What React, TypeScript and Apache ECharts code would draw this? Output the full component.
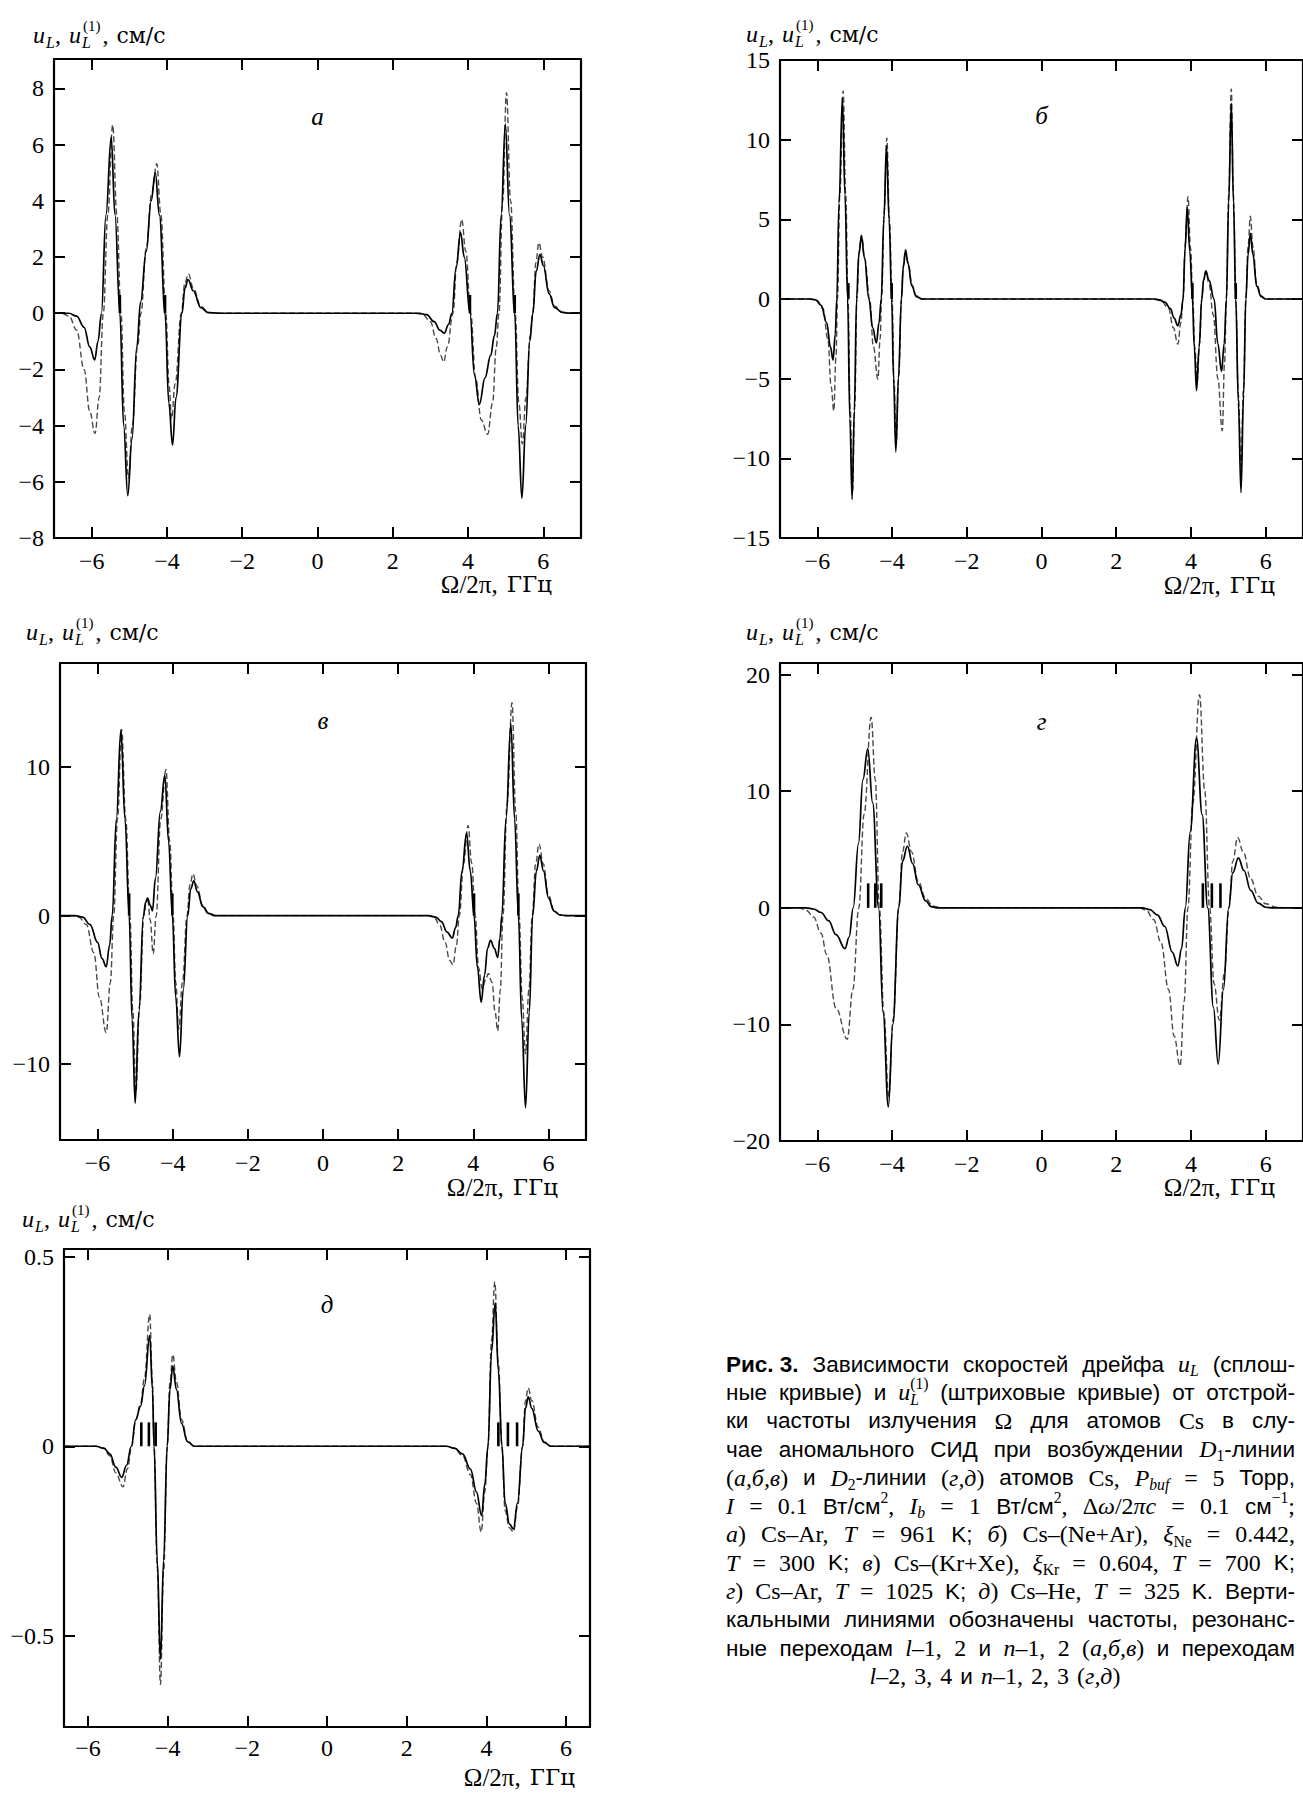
import React, { useEffect, useRef } from "react";
import * as echarts from "echarts";

// ---------------- data ----------------
const xTicks = [-6, -4, -2, 0, 2, 4, 6];
const aYTicks = [-8, -6, -4, -2, 0, 2, 4, 6, 8];
const bYTicks = [-15, -10, -5, 0, 5, 10, 15];
const vYTicks = [-10, 0, 10];
const gYTicks = [-20, -10, 0, 10, 20];
const dYTicks = [-0.5, 0, 0.5];

// panel а (Cs–Ar, D1)
const aSolid = [
  [-7, 0], [-6.6, 0], [-6.4, -0.1], [-6.2, -0.5], [-6.05, -1.2], [-5.92, -1.66], [-5.83, -1.0], [-5.74, 0],
  [-5.62, 3.5], [-5.48, 6.27], [-5.38, 3.5], [-5.25, 0], [-5.15, -4.0], [-5.04, -6.49], [-4.93, -4.5],
  [-4.8, -1.2], [-4.7, 0.4], [-4.55, 2.2], [-4.42, 4.0], [-4.31, 5.0], [-4.2, 3.5], [-4.05, 0], [-3.95, -3.2],
  [-3.85, -4.69], [-3.76, -3.0], [-3.6, 0], [-3.52, 0.9], [-3.44, 1.2], [-3.3, 0.8], [-3.1, 0.2], [-2.9, 0.02],
  [-2.6, 0], [2.7, 0], [2.9, -0.05], [3.1, -0.3], [3.25, -0.6], [3.37, -0.71], [3.48, -0.4], [3.57, 0],
  [3.68, 1.6], [3.8, 2.87], [3.9, 2.0], [4.05, 0], [4.17, -2.2], [4.3, -3.25], [4.45, -2.3], [4.6, -1.5],
  [4.7, -0.8], [4.78, 0], [4.88, 3.5], [4.99, 6.74], [5.1, 3.5], [5.24, 0], [5.33, -4.0], [5.43, -6.58],
  [5.53, -4.0], [5.64, -1.0], [5.72, 0], [5.81, 1.5], [5.91, 2.09], [6.0, 1.7], [6.15, 0.7], [6.3, 0.2],
  [6.5, 0.03], [6.7, 0], [7, 0],
];
const aDashed = [
  [-7, 0], [-6.8, 0], [-6.6, -0.1], [-6.4, -0.6], [-6.2, -2.0], [-6.05, -3.5], [-5.91, -4.28], [-5.8, -3.0],
  [-5.69, 0], [-5.57, 3.5], [-5.44, 6.7], [-5.33, 3.5], [-5.22, 0], [-5.13, -3.5], [-5.02, -5.87], [-4.92, -4.0],
  [-4.78, -1.2], [-4.69, 0], [-4.55, 2.3], [-4.4, 4.3], [-4.27, 5.32], [-4.16, 3.5], [-4.03, 0], [-3.94, -2.6],
  [-3.88, -3.76], [-3.78, -2.5], [-3.62, 0], [-3.52, 1.1], [-3.43, 1.4], [-3.3, 0.9], [-3.1, 0.25], [-2.9, 0.03],
  [-2.6, 0], [2.6, 0], [2.8, -0.05], [3.0, -0.3], [3.15, -0.9], [3.27, -1.5], [3.35, -1.73], [3.45, -1.2],
  [3.6, 0], [3.7, 1.8], [3.83, 3.34], [3.94, 2.2], [4.07, 0], [4.2, -2.3], [4.35, -3.8], [4.52, -4.31],
  [4.65, -3.2], [4.75, -1.2], [4.82, 0], [4.92, 4.0], [5.02, 7.85], [5.13, 4.0], [5.25, 0], [5.35, -3.2],
  [5.44, -4.65], [5.54, -3.0], [5.65, -0.8], [5.72, 0], [5.8, 1.8], [5.88, 2.51], [5.98, 2.0], [6.15, 0.8],
  [6.3, 0.25], [6.5, 0.04], [6.7, 0], [7, 0],
];
const aMarks = [-5.25, -4.05, 4.05, 5.24];
const aMarkH = 0.65;

// panel б (Cs–(Ne+Ar), D1)
const bSolid = [
  [-7, 0], [-6.2, 0], [-6.05, -0.05], [-5.9, -0.4], [-5.75, -1.5], [-5.65, -3.0], [-5.58, -3.83], [-5.52, -2.2],
  [-5.48, 0], [-5.42, 6.0], [-5.33, 12.63], [-5.26, 6.5], [-5.19, 0], [-5.13, -7.5], [-5.07, -12.58],
  [-5.01, -7.0], [-4.95, 0], [-4.89, 2.8], [-4.82, 3.95], [-4.74, 2.6], [-4.62, 0], [-4.52, -1.8],
  [-4.42, -2.76], [-4.35, -1.5], [-4.29, 0], [-4.22, 5.0], [-4.15, 9.63], [-4.08, 5.0], [-4.01, 0],
  [-3.96, -5.0], [-3.9, -9.59], [-3.83, -5.0], [-3.75, 0], [-3.7, 2.0], [-3.64, 3.04], [-3.57, 2.2],
  [-3.47, 0.8], [-3.35, 0.15], [-3.2, 0], [3.0, 0], [3.15, -0.05], [3.3, -0.2], [3.45, -0.6], [3.55, -1.2],
  [3.65, -1.68], [3.73, -1.0], [3.79, 0], [3.84, 3.0], [3.9, 5.75], [3.97, 3.0], [4.04, 0], [4.09, -3.0],
  [4.15, -5.75], [4.22, -3.0], [4.29, 0], [4.34, 1.2], [4.4, 1.75], [4.48, 1.2], [4.62, 0], [4.72, -2.8],
  [4.82, -4.55], [4.89, -2.8], [4.95, 0], [5.01, 6.0], [5.08, 12.29], [5.14, 6.0], [5.2, 0], [5.27, -6.5],
  [5.34, -12.15], [5.41, -6.0], [5.47, 0], [5.53, 2.8], [5.59, 4.12], [5.66, 2.8], [5.76, 0.8], [5.88, 0.15],
  [6.0, 0], [7, 0],
];
const bDashed = [
  [-7, 0], [-6.2, 0], [-6.0, -0.1], [-5.85, -0.6], [-5.72, -2.5], [-5.63, -5.5], [-5.56, -7.02], [-5.5, -3.5],
  [-5.46, 0], [-5.4, 6.5], [-5.31, 13.06], [-5.24, 6.5], [-5.18, 0], [-5.12, -7.0], [-5.06, -12.1],
  [-5.0, -6.8], [-4.94, 0], [-4.88, 3.0], [-4.82, 4.0], [-4.73, 2.5], [-4.6, 0], [-4.5, -3.0], [-4.38, -5.03],
  [-4.32, -2.5], [-4.28, 0], [-4.21, 5.5], [-4.14, 10.1], [-4.07, 5.0], [-4.0, 0], [-3.95, -5.0],
  [-3.89, -9.1], [-3.82, -4.8], [-3.75, 0], [-3.7, 2.1], [-3.64, 3.1], [-3.57, 2.3], [-3.47, 0.9],
  [-3.35, 0.2], [-3.2, 0], [3.0, 0], [3.2, -0.1], [3.4, -0.6], [3.53, -1.8], [3.65, -2.83], [3.73, -1.5],
  [3.79, 0], [3.85, 3.5], [3.92, 6.42], [3.99, 3.2], [4.05, 0], [4.1, -3.0], [4.17, -5.15], [4.23, -2.8],
  [4.29, 0], [4.34, 1.2], [4.4, 1.75], [4.48, 1.0], [4.6, -1.0], [4.72, -5.0], [4.84, -8.27], [4.9, -4.0],
  [4.95, 0], [5.01, 6.5], [5.08, 13.18], [5.14, 6.5], [5.2, 0], [5.27, -6.0], [5.34, -10.5], [5.41, -5.5],
  [5.47, 0], [5.53, 3.3], [5.59, 5.2], [5.66, 3.3], [5.76, 1.0], [5.88, 0.2], [6.0, 0], [7, 0],
];
const bMarks = [-5.17, -4.01, 4.04, 5.2];
const bMarkH = 1.0;

// panel в (Cs–(Kr+Xe), D1)
const vSolid = [
  [-7, 0], [-6.6, 0], [-6.4, -0.1], [-6.2, -0.6], [-6.0, -1.8], [-5.88, -2.9], [-5.77, -3.44], [-5.68, -2.0],
  [-5.61, 0], [-5.5, 6.5], [-5.38, 12.48], [-5.27, 6.5], [-5.16, 0], [-5.08, -7.0], [-5.0, -12.63],
  [-4.9, -6.5], [-4.78, 0], [-4.72, 0.9], [-4.67, 1.18], [-4.6, 0.7], [-4.54, 0.33], [-4.46, 2.5],
  [-4.33, 7.0], [-4.21, 9.45], [-4.11, 5.0], [-4.01, 0], [-3.92, -5.5], [-3.82, -9.5], [-3.72, -5.0],
  [-3.6, 0], [-3.52, 1.8], [-3.44, 2.34], [-3.34, 1.6], [-3.2, 0.6], [-3.05, 0.15], [-2.89, 0], [2.8, 0],
  [3.0, -0.1], [3.15, -0.4], [3.3, -1.1], [3.44, -1.51], [3.53, -0.8], [3.6, 0], [3.7, 3.0], [3.82, 5.55],
  [3.92, 3.0], [4.02, 0], [4.11, -3.5], [4.21, -5.83], [4.3, -4.0], [4.38, -2.2], [4.46, -1.67], [4.56, -2.2],
  [4.65, -2.82], [4.71, -1.5], [4.76, 0], [4.87, 6.5], [5.0, 12.91], [5.1, 6.5], [5.2, 0], [5.29, -7.0],
  [5.39, -12.94], [5.49, -6.5], [5.58, 0], [5.68, 3.0], [5.77, 4.06], [5.87, 3.0], [6.0, 1.2], [6.15, 0.3],
  [6.3, 0.05], [6.46, 0], [7, 0],
];
const vDashed = [
  [-7, 0], [-6.7, 0], [-6.5, -0.1], [-6.3, -0.6], [-6.1, -2.5], [-5.95, -5.5], [-5.77, -7.88], [-5.66, -4.5],
  [-5.57, 0], [-5.47, 6.5], [-5.36, 12.53], [-5.25, 6.5], [-5.14, 0], [-5.06, -6.5], [-4.98, -11.86],
  [-4.88, -6.0], [-4.77, 0], [-4.71, 0.8], [-4.66, 0.98], [-4.6, -0.3], [-4.52, -2.57], [-4.44, 0],
  [-4.32, 6.5], [-4.18, 9.83], [-4.08, 5.0], [-3.99, 0], [-3.92, -4.5], [-3.84, -7.63], [-3.74, -4.5],
  [-3.62, 0], [-3.54, 2.1], [-3.46, 2.82], [-3.36, 2.0], [-3.2, 0.7], [-3.05, 0.2], [-2.85, 0], [2.8, 0],
  [2.95, -0.1], [3.1, -0.6], [3.25, -1.8], [3.37, -3.0], [3.46, -3.31], [3.55, -2.0], [3.63, 0], [3.74, 3.5],
  [3.86, 6.06], [3.96, 3.5], [4.05, 0], [4.14, -3.5], [4.24, -4.93], [4.33, -4.3], [4.4, -3.9], [4.5, -4.5],
  [4.58, -6.5], [4.65, -7.75], [4.72, -5.0], [4.79, 0], [4.9, 7.5], [5.03, 14.33], [5.13, 7.0], [5.22, 0],
  [5.3, -5.5], [5.39, -9.3], [5.48, -5.0], [5.57, 0], [5.66, 3.5], [5.75, 4.83], [5.86, 3.5], [6.0, 1.4],
  [6.15, 0.35], [6.3, 0.06], [6.5, 0], [7, 0],
];
const vMarks = [-5.16, -4.01, 4.02, 5.2];
const vMarkH = 1.5;

// panel г (Cs–Ar, D2)
const gSolid = [
  [-7, 0], [-6.3, 0], [-6.1, -0.1], [-5.9, -0.4], [-5.7, -1.1], [-5.5, -2.3], [-5.26, -3.5], [-5.15, -2.5],
  [-5.04, 0], [-4.9, 5.5], [-4.78, 11.0], [-4.65, 13.63], [-4.52, 9.0], [-4.36, 0], [-4.24, -9.0],
  [-4.1, -17.07], [-3.98, -10.0], [-3.82, 0], [-3.72, 4.0], [-3.59, 5.28], [-3.45, 3.8], [-3.3, 2.0],
  [-3.1, 0.6], [-2.95, 0.1], [-2.8, 0], [2.7, 0], [2.9, -0.15], [3.1, -0.6], [3.3, -1.6], [3.5, -3.8],
  [3.65, -4.98], [3.75, -3.5], [3.85, 0], [3.98, 6.5], [4.15, 14.55], [4.3, 8.0], [4.45, 0], [4.6, -8.5],
  [4.73, -13.4], [4.87, -7.0], [5.01, 0], [5.12, 3.0], [5.27, 4.29], [5.42, 3.2], [5.6, 1.5], [5.8, 0.4],
  [6.0, 0.05], [6.2, 0], [7, 0],
];
const gDashed = [
  [-7, 0], [-6.5, 0], [-6.3, -0.2], [-6.1, -0.8], [-5.9, -2.2], [-5.75, -4.0], [-5.5, -8.6], [-5.2, -11.27],
  [-5.05, -7.0], [-4.89, 0], [-4.75, 8.0], [-4.56, 16.35], [-4.45, 11.0], [-4.34, 0], [-4.22, -9.0],
  [-4.09, -16.19], [-3.97, -9.5], [-3.82, 0], [-3.72, 4.8], [-3.62, 6.42], [-3.48, 4.8], [-3.3, 2.3],
  [-3.1, 0.8], [-2.9, 0.15], [-2.7, 0], [2.6, 0], [2.8, -0.2], [3.0, -1.0], [3.2, -3.0], [3.4, -7.0],
  [3.55, -11.0], [3.71, -13.57], [3.82, -8.0], [3.92, 0], [4.05, 9.0], [4.23, 18.28], [4.37, 10.0], [4.5, 0],
  [4.62, -6.5], [4.76, -9.63], [4.9, -5.5], [5.02, 0], [5.12, 4.0], [5.25, 6.03], [5.4, 4.8], [5.6, 2.5],
  [5.8, 1.0], [6.0, 0.35], [6.3, 0.05], [6.5, 0], [7, 0],
];
const gMarks = [-4.64, -4.45, -4.29, 4.32, 4.56, 4.79];
const gMarkH = 2.1;

// panel д (Cs–He, D2)
const dSolid = [
  [-6.6, 0], [-5.8, 0], [-5.6, -0.005], [-5.45, -0.02], [-5.3, -0.055], [-5.15, -0.082], [-5.03, -0.05],
  [-4.91, 0], [-4.8, 0.07], [-4.68, 0.105], [-4.58, 0.16], [-4.45, 0.292], [-4.38, 0.15], [-4.34, 0],
  [-4.26, -0.3], [-4.18, -0.562], [-4.1, -0.3], [-4.01, 0], [-3.94, 0.15], [-3.87, 0.211], [-3.78, 0.15],
  [-3.65, 0.06], [-3.5, 0.012], [-3.33, 0], [3.0, 0], [3.2, -0.005], [3.4, -0.02], [3.6, -0.06],
  [3.75, -0.12], [3.88, -0.183], [3.96, -0.1], [4.04, 0], [4.13, 0.25], [4.22, 0.378], [4.3, 0.2],
  [4.39, 0], [4.47, -0.15], [4.58, -0.205], [4.68, -0.218], [4.78, -0.15], [4.91, 0], [4.98, 0.1],
  [5.05, 0.13], [5.14, 0.1], [5.3, 0.04], [5.45, 0.01], [5.62, 0], [6.6, 0],
];
const dDashed = [
  [-6.6, 0], [-5.8, 0], [-5.6, -0.006], [-5.45, -0.025], [-5.3, -0.07], [-5.12, -0.107], [-5.01, -0.06],
  [-4.9, 0], [-4.8, 0.07], [-4.68, 0.11], [-4.58, 0.18], [-4.45, 0.348], [-4.38, 0.17], [-4.34, 0],
  [-4.26, -0.32], [-4.18, -0.628], [-4.1, -0.33], [-4.01, 0], [-3.94, 0.17], [-3.87, 0.242], [-3.78, 0.17],
  [-3.65, 0.07], [-3.5, 0.014], [-3.33, 0], [3.0, 0], [3.2, -0.006], [3.4, -0.025], [3.6, -0.075],
  [3.75, -0.15], [3.87, -0.226], [3.96, -0.12], [4.04, 0], [4.13, 0.28], [4.21, 0.434], [4.3, 0.22],
  [4.39, 0], [4.47, -0.17], [4.58, -0.215], [4.68, -0.226], [4.78, -0.16], [4.91, 0], [4.98, 0.12],
  [5.05, 0.154], [5.14, 0.12], [5.3, 0.05], [5.45, 0.012], [5.62, 0], [6.6, 0],
];
const dMarks = [-4.66, -4.47, -4.3, 4.3, 4.54, 4.77];
const dMarkH = 0.063;

// caption: lines -> words -> segments [text, style]
type Seg = [string, string];
const captionLines: Seg[][][] = [
  [[["Рис. 3.", "B"]], [["Зависимости", "S"]], [["скоростей", "S"]], [["дрейфа", "S"]], [["u", "I"], ["L", "bI"]], [["(сплош-", "S"]]],
  [[["ные", "S"]], [["кривые)", "S"]], [["и", "S"]], [["u", "I"], ["L", "bIn"], ["(1)", "pR"]], [["(штриховые", "S"]], [["кривые)", "S"]], [["от", "S"]], [["отстрой-", "S"]]],
  [[["ки", "S"]], [["частоты", "S"]], [["излучения", "S"]], [["Ω", "R"]], [["для", "S"]], [["атомов", "S"]], [["Cs", "R"]], [["в", "S"]], [["слу-", "S"]]],
  [[["чае", "S"]], [["аномального", "S"]], [["СИД", "S"]], [["при", "S"]], [["возбуждении", "S"]], [["D", "I"], ["1", "bR"], ["-линии", "S"]]],
  [[["(", "R"], ["а,б,в", "I"], [")", "R"]], [["и", "S"]], [["D", "I"], ["2", "bR"], ["-линии", "S"]], [["(", "R"], ["г,д", "I"], [")", "R"]], [["атомов", "S"]], [["Cs,", "R"]], [["P", "I"], ["buf", "bI"]], [["=", "R"]], [["5", "R"]], [["Торр,", "S"]]],
  [[["I", "I"]], [["=", "R"]], [["0.1", "R"]], [["Вт/см", "S"], ["2", "pR"], [",", "R"]], [["I", "I"], ["b", "bI"]], [["=", "R"]], [["1", "R"]], [["Вт/см", "S"], ["2", "pR"], [",", "R"]], [["Δ", "R"], ["ω", "I"], ["/2", "R"], ["πc", "I"]], [["=", "R"]], [["0.1", "R"]], [["см", "S"], ["−1", "pR"], [";", "R"]]],
  [[["а", "I"], [")", "R"]], [["Cs–Ar,", "R"]], [["T", "I"]], [["=", "R"]], [["961", "R"]], [["K;", "S"]], [["б", "I"], [")", "R"]], [["Cs–(Ne+Ar),", "R"]], [["ξ", "I"], ["Ne", "bR"]], [["=", "R"]], [["0.442,", "R"]]],
  [[["T", "I"]], [["=", "R"]], [["300", "R"]], [["K;", "S"]], [["в", "I"], [")", "R"]], [["Cs–(Kr+Xe),", "R"]], [["ξ", "I"], ["Kr", "bR"]], [["=", "R"]], [["0.604,", "R"]], [["T", "I"]], [["=", "R"]], [["700", "R"]], [["K;", "S"]]],
  [[["г", "I"], [")", "R"]], [["Cs–Ar,", "R"]], [["T", "I"]], [["=", "R"]], [["1025", "R"]], [["K;", "S"]], [["д", "I"], [")", "R"]], [["Cs–He,", "R"]], [["T", "I"]], [["=", "R"]], [["325", "R"]], [["K.", "S"]], [["Верти-", "S"]]],
  [[["кальными", "S"]], [["линиями", "S"]], [["обозначены", "S"]], [["частоты,", "S"]], [["резонанс-", "S"]]],
  [[["ные", "S"]], [["переходам", "S"]], [["l", "I"], ["–1,", "R"]], [["2", "R"]], [["и", "S"]], [["n", "I"], ["–1,", "R"]], [["2", "R"]], [["(", "R"], ["а,б,в", "I"], [")", "R"]], [["и", "S"]], [["переходам", "S"]]],
  [[["l", "I"], ["–2,", "R"]], [["3,", "R"]], [["4", "R"]], [["и", "S"]], [["n", "I"], ["–1,", "R"]], [["2,", "R"]], [["3", "R"]], [["(", "R"], ["г,д", "I"], [")", "R"]]],
];

// ---------------- layout / style ----------------
const W = 1303;
const H = 1793;
const SERIF = '"Liberation Serif", "DejaVu Serif", serif';
const CYR = '"DejaVu Serif", "Liberation Serif", serif';
const SANS = '"Liberation Sans", "DejaVu Sans", sans-serif';

const PANELS = [
  { letter: "а", solid: aSolid, dashed: aDashed, marks: aMarks, markH: aMarkH, yTicks: aYTicks,
    x: [-7, 7], y: [-8, 9.05], letterY: 7.0,
    grid: { left: 54, top: 59, width: 527, height: 479 }, title: [33, 35], xTitle: [552, 584] },
  { letter: "б", solid: bSolid, dashed: bDashed, marks: bMarks, markH: bMarkH, yTicks: bYTicks,
    x: [-7, 7], y: [-15, 15], letterY: 11.5,
    grid: { left: 780, top: 60, width: 527, height: 478 }, title: [746, 34], xTitle: [1275, 585] },
  { letter: "в", solid: vSolid, dashed: vDashed, marks: vMarks, markH: vMarkH, yTicks: vYTicks,
    x: [-7, 7], y: [-15.1, 17], letterY: 13.1,
    grid: { left: 60, top: 663, width: 526, height: 477 }, title: [26, 632], xTitle: [558, 1187] },
  { letter: "г", solid: gSolid, dashed: gDashed, marks: gMarks, markH: gMarkH, yTicks: gYTicks,
    x: [-7, 7], y: [-20, 21], letterY: 16,
    grid: { left: 780, top: 663, width: 527, height: 478 }, title: [746, 632], xTitle: [1275, 1187] },
  { letter: "д", solid: dSolid, dashed: dDashed, marks: dMarks, markH: dMarkH, yTicks: dYTicks,
    x: [-6.6, 6.6], y: [-0.74, 0.52], letterY: 0.373,
    grid: { left: 64, top: 1249, width: 526, height: 478 }, title: [22, 1219], xTitle: [575, 1777] },
];

function fmt(v: number): string {
  const s = String(Math.abs(v));
  return v < 0 ? "\u2212" + s : s;
}

let measureCtx: CanvasRenderingContext2D | null = null;
function measure(t: string, font: string): number {
  if (!measureCtx) measureCtx = document.createElement("canvas").getContext("2d");
  (measureCtx as CanvasRenderingContext2D).font = font;
  return (measureCtx as CanvasRenderingContext2D).measureText(t).width;
}

function txt(x: number, y: number, text: string, font: string, align = "left") {
  return {
    type: "text", x, y, silent: true,
    style: { text, font, fill: "#000", align, textAlign: align, verticalAlign: "middle", textVerticalAlign: "middle" },
  };
}

function yTitle(x: number, y: number) {
  const it = `italic 24px ${SERIF}`;
  const rm = `24px ${SERIF}`;
  const itS = `italic 16px ${SERIF}`;
  const rmS = `15px ${SERIF}`;
  const cy = `22px ${CYR}`;
  const pieces: any[] = [];
  let cx = 0;
  pieces.push(txt(cx, 0, "u", it)); cx += measure("u", it) + 1;
  pieces.push(txt(cx, 7, "L", itS)); cx += measure("L", itS);
  pieces.push(txt(cx, 0, ",", rm)); cx += measure(", ", rm) + 2;
  pieces.push(txt(cx, 0, "u", it)); cx += measure("u", it) + 1;
  pieces.push(txt(cx, 7, "L", itS));
  pieces.push(txt(cx + 1, -9, "(1)", rmS)); cx += measure("(1)", rmS) + 3;
  pieces.push(txt(cx, 0, ",", rm)); cx += measure(", ", rm) + 2;
  pieces.push(txt(cx, 0, "см/с", cy));
  return { type: "group", x, y, silent: true, children: pieces };
}

function xTitle(xEnd: number, y: number) {
  const cy = `23px ${CYR}`;
  const rm = `25px ${SERIF}`;
  const wC = measure("ГГц", cy);
  return {
    type: "group", x: 0, y: 0, silent: true,
    children: [
      txt(xEnd, y, "ГГц", cy, "right"),
      txt(xEnd - wC - 9, y, "Ω/2π,", rm, "right"),
    ],
  };
}

function buildCaption(): any[] {
  const capLeft = 726;
  const capRight = 1295;
  const capW = capRight - capLeft;
  const lastCenter = 995;
  const firstY = 1364;
  const step = 28.4;
  const defs = (fs: number) => {
    const sub = +(fs * 0.7).toFixed(1);
    const f = +fs.toFixed(1);
    const fr = +(fs * 1.06).toFixed(1);
    return {
      S: { font: `${f}px ${SANS}`, dy: 0, adv: true },
      B: { font: `bold ${f}px ${SANS}`, dy: 0, adv: true },
      R: { font: `${fr}px ${SERIF}`, dy: 0, adv: true },
      I: { font: `italic ${fr}px ${SERIF}`, dy: 0, adv: true },
      bI: { font: `italic ${sub}px ${SERIF}`, dy: fs * 0.3, adv: true },
      bR: { font: `${sub}px ${SERIF}`, dy: fs * 0.3, adv: true },
      bIn: { font: `italic ${sub}px ${SERIF}`, dy: fs * 0.3, adv: false },
      pR: { font: `${sub}px ${SERIF}`, dy: -fs * 0.38, adv: true },
    } as Record<string, { font: string; dy: number; adv: boolean }>;
  };
  const wordW = (word: Seg[], st: Record<string, any>) =>
    word.reduce((a, [t, k]) => a + (st[k].adv ? measure(t, st[k].font) : 0), 0);

  const base = 20;
  const st0 = defs(base);
  const sp0 = measure(" ", st0.S.font);
  let maxNat = 0;
  captionLines.forEach((line, li) => {
    if (li === captionLines.length - 1) return;
    const nat = line.reduce((a, w) => a + wordW(w, st0), 0) + sp0 * 1.2 * (line.length - 1);
    maxNat = Math.max(maxNat, nat);
  });
  const fs = Math.min(22.5, (base * capW) / maxNat);
  const st = defs(fs);
  const sp = measure(" ", st.S.font);

  const els: any[] = [];
  captionLines.forEach((line, li) => {
    const y = firstY + li * step;
    const widths = line.map((w) => wordW(w, st));
    const total = widths.reduce((a, b) => a + b, 0);
    const last = li === captionLines.length - 1;
    let gap: number;
    let x: number;
    if (last) {
      gap = sp * 1.3;
      const full = total + gap * (line.length - 1);
      x = lastCenter - full / 2;
    } else {
      gap = (capW - total) / (line.length - 1);
      x = capLeft;
    }
    line.forEach((word, wi) => {
      let cx = x;
      word.forEach(([t, k]) => {
        const d = st[k];
        els.push(txt(cx, y + d.dy, t, d.font));
        if (d.adv) cx += measure(t, d.font);
      });
      x += widths[wi] + gap;
    });
  });
  return els;
}

function buildOption() {
  const grid: any[] = [];
  const xAxis: any[] = [];
  const yAxis: any[] = [];
  const series: any[] = [];
  const graphic: any[] = [];
  const lineSt = { color: "#000", width: 2.2 };
  const tickSt = { color: "#000", width: 2 };
  const lab = { color: "#000", fontFamily: SERIF, fontSize: 24, formatter: fmt };

  PANELS.forEach((p, i) => {
    grid.push({ ...p.grid, containLabel: false, show: false });
    const xBase = {
      type: "value", gridIndex: i, min: p.x[0], max: p.x[1], splitLine: { show: false },
      axisLine: { show: true, onZero: false, lineStyle: lineSt },
    };
    xAxis.push({
      ...xBase, position: "bottom",
      axisTick: { show: true, inside: true, length: 11, lineStyle: tickSt, customValues: xTicks },
      axisLabel: { ...lab, show: true, margin: i === 4 ? 9 : 11, customValues: xTicks },
    });
    xAxis.push({
      ...xBase, position: "top",
      axisTick: { show: true, inside: true, length: 11, lineStyle: tickSt, customValues: xTicks },
      axisLabel: { show: false },
    });
    const yBase = {
      type: "value", gridIndex: i, min: p.y[0], max: p.y[1], splitLine: { show: false },
      axisLine: { show: true, onZero: false, lineStyle: lineSt },
    };
    yAxis.push({
      ...yBase, position: "left",
      axisTick: { show: true, inside: true, length: 11, lineStyle: tickSt, customValues: p.yTicks },
      axisLabel: { ...lab, show: true, margin: 10, customValues: p.yTicks },
    });
    yAxis.push({
      ...yBase, position: "right",
      axisTick: { show: true, inside: true, length: 11, lineStyle: tickSt, customValues: p.yTicks },
      axisLabel: { show: false },
    });
    const xi = 2 * i;
    const yi = 2 * i;
    series.push({
      type: "line", xAxisIndex: xi, yAxisIndex: yi, data: p.dashed, symbol: "none", smooth: 0.4,
      smoothMonotone: "x", lineStyle: { color: "#4a4a4a", width: 1.4, type: [6, 3] }, z: 2, silent: true,
    });
    series.push({
      type: "line", xAxisIndex: xi, yAxisIndex: yi, data: p.solid, symbol: "none", smooth: 0.4,
      smoothMonotone: "x", lineStyle: { color: "#000", width: 1.7 }, z: 3, silent: true,
    });
    const mh = p.markH;
    series.push({
      type: "custom", coordinateSystem: "cartesian2d", xAxisIndex: xi, yAxisIndex: yi, z: 4, silent: true,
      data: p.marks.map((m) => [m, mh]),
      renderItem: (_params: any, api: any) => {
        const a = api.coord([api.value(0), 0]);
        const b = api.coord([api.value(0), api.value(1)]);
        return { type: "line", shape: { x1: a[0], y1: a[1], x2: b[0], y2: b[1] }, style: { stroke: "#000", lineWidth: 2.6 } };
      },
    });
    const letter = p.letter;
    series.push({
      type: "custom", coordinateSystem: "cartesian2d", xAxisIndex: xi, yAxisIndex: yi, z: 5, silent: true,
      data: [[0, p.letterY]],
      renderItem: (_params: any, api: any) => {
        const c = api.coord([api.value(0), api.value(1)]);
        return {
          type: "text", x: c[0], y: c[1],
          style: { text: letter, font: `italic 25px ${SERIF}`, fill: "#000", align: "center", textAlign: "center", verticalAlign: "middle", textVerticalAlign: "middle" },
        };
      },
    });
    graphic.push(yTitle(p.title[0], p.title[1]));
    graphic.push(xTitle(p.xTitle[0], p.xTitle[1]));
  });

  graphic.push(...buildCaption());

  return {
    animation: false,
    backgroundColor: "#fff",
    grid, xAxis, yAxis, series,
    graphic: { elements: graphic },
  };
}

export default function App() {
  const ref = useRef<HTMLDivElement>(null);
  useEffect(() => {
    if (!ref.current) return;
    const chart = echarts.init(ref.current, undefined, { renderer: "svg", width: W, height: H });
    chart.setOption(buildOption() as any);
    return () => chart.dispose();
  }, []);
  return (
    <div
      ref={ref}
      style={{ position: "absolute", left: 0, top: 0, width: W, height: H, background: "#fff", overflow: "hidden" }}
    />
  );
}
